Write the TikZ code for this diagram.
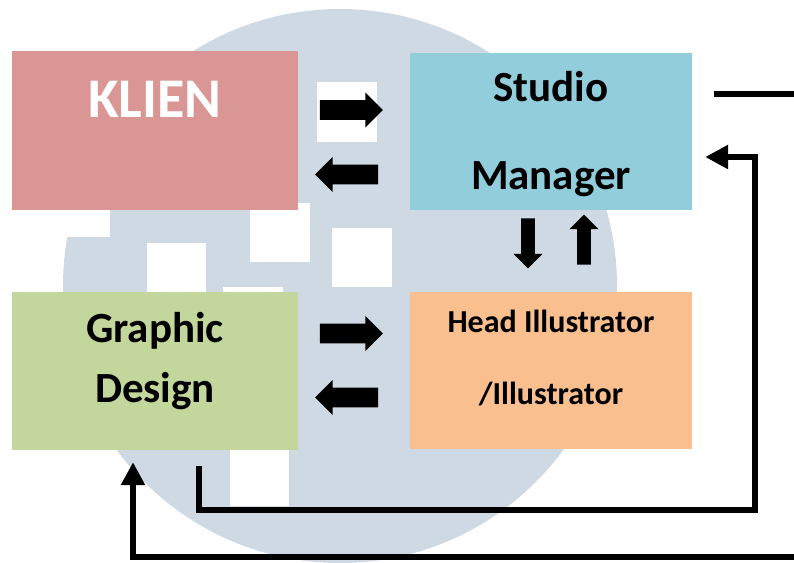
\documentclass[tikz,border=0pt]{standalone}
\usepackage{fontspec}
\setmainfont{Carlito}
\usetikzlibrary{shapes.arrows,arrows.meta}

\definecolor{discgray}{HTML}{CED9E3}
\definecolor{klienred}{HTML}{D99694}
\definecolor{studioblue}{HTML}{92CDDC}
\definecolor{designgreen}{HTML}{C3D69B}
\definecolor{illuorange}{HTML}{F9BF8F}

\tikzset{
  box/.style={rectangle, inner sep=0pt, align=center},
  fatarrow/.style={single arrow, fill=black, inner sep=9.75pt, minimum height=63pt, single arrow head extend=7.75pt},
  slimarrow/.style={fatarrow, inner sep=6.75pt, minimum height=50pt},
  flow/.style={line width=6.5pt},
  flowtip/.style={flow, -{Triangle[length=23pt, width=23pt]}},
}

\begin{document}
\begin{tikzpicture}[x=1pt, y=-1pt]
\useasboundingbox (0,0) rectangle (794,562);

% backdrop disc with the white squares
\fill[discgray] (340,286) circle[radius=277pt];
\fill[white] (60,210) rectangle (110,237);
\fill[white] (147,243) rectangle (206,303);
\fill[white] (250,203) rectangle (310,262);
\fill[white] (332,228) rectangle (392,287);
\fill[white] (317,82) rectangle (377,142);
\fill[white] (223,287) rectangle (283,347);
\fill[white] (230,446) rectangle (289,506);

% the four roles (text height counts from the last line)
\node[box, fill=klienred, minimum width=286pt, text height=66pt, text depth=93pt, text=white, font=\bfseries\fontsize{56}{60}\selectfont] (klien) at (155,130.5) {KLIEN};
\node[box, fill=studioblue, minimum width=282pt, text height=136pt, text depth=21pt, font=\bfseries\fontsize{43}{88}\selectfont] (studio) at (551,131.5) {Studio\\Manager};
\node[box, fill=designgreen, minimum width=286pt, text height=110pt, text depth=48pt, font=\bfseries\fontsize{43}{60}\selectfont] (design) at (155,371) {Graphic\\Design};
\node[box, fill=illuorange, minimum width=282pt, text height=112pt, text depth=45pt, font=\bfseries\fontsize{32}{72}\selectfont] (illu) at (551,370.5) {Head Illustrator\\/Illustrator};

% block arrows between the boxes (anchor sits toward the tip)
\node[fatarrow] (k2s) at (346.5,110) {};
\node[fatarrow, shape border rotate=180] (s2k) at (351.5,174.5) {};
\node[fatarrow] (d2i) at (346.5,333.5) {};
\node[fatarrow, shape border rotate=180] (i2d) at (351.5,397.5) {};
\node[slimarrow, shape border rotate=270] (s2i) at (528,240) {};
\node[slimarrow, shape border rotate=90] (i2s) at (584,243) {};

% feedback lines
\coordinate (outtop) at (794,94);
\coordinate (outbot) at (794,557);
\draw[flow] ([xshift=22pt]studio.east |- outtop) -- (outtop);
\draw[flowtip] ([xshift=44pt, yshift=-16pt]design.south) -- ++(0,44) -| (755,157) -- ([xshift=13pt, yshift=-25.5pt]studio.east);
\draw[flowtip] (outbot) -| ([xshift=-22pt, yshift=-12pt]design.south);
\end{tikzpicture}
\end{document}
